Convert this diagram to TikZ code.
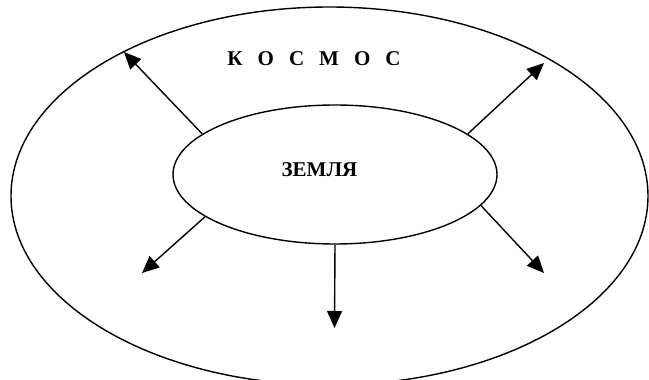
\documentclass[tikz,border=0pt]{standalone}
\usepackage{fontspec}
\setmainfont{Liberation Serif}
\usetikzlibrary{arrows.meta,shapes.geometric}
\newcommand\kgap{\hspace{15pt}}
\begin{document}
\begin{tikzpicture}[x=1pt,y=-1pt,
  shell/.style={draw,ellipse,line width=1.4pt,inner sep=0pt},
  ray/.style={line width=1.4pt,-{Triangle[length=17pt,width=15pt]}},
  caption/.style={font=\bfseries\fontsize{21}{24}\selectfont,inner sep=0pt}]
  \useasboundingbox (0,0) rectangle (649,380);
  \begin{scope}
    \clip (0,0) rectangle (649,380);
    % outer region: space
    \node[shell,minimum width=637pt,minimum height=378pt] (space) at (329.5,196) {};
  \end{scope}
  % inner region: the Earth
  \node[shell,minimum width=324pt,minimum height=139pt] (earth) at (335,174.5) {};
  \node[caption] (earthlabel) at (319.5,170) {ЗЕМЛЯ};
  \node[caption] (spacelabel) at (314,58.5) {К\kgap О\kgap С\kgap М\kgap О\kgap С};
  % arrow tips
  \coordinate (t1) at (124,52);
  \coordinate (t2) at (544,63);
  \coordinate (t3) at (142,273);
  \coordinate (t4) at (334.5,328);
  \coordinate (t5) at (544,273);
  \draw[ray] (earth.163.2) -- (t1);
  \draw[ray] (earth.17.6) -- (t2);
  \draw[ray] (earth.198.4) -- (t3);
  \draw[ray] (earth.270) -- (t4);
  \draw[ray] (earth.348.5) -- (t5);
\end{tikzpicture}
\end{document}
